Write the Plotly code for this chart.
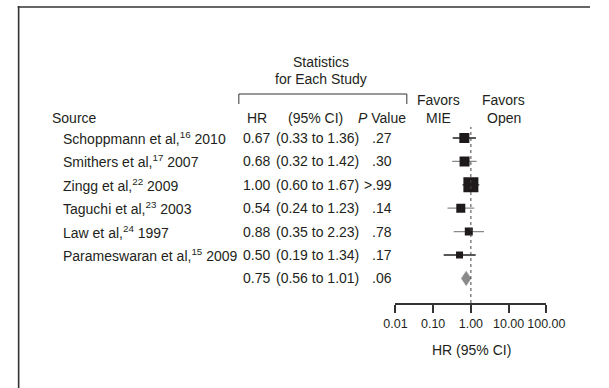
import plotly.graph_objects as go

# ---------------- data ----------------
sources = [
    "Schoppmann et al,<sup>16</sup> 2010",
    "Smithers et al,<sup>17</sup> 2007",
    "Zingg et al,<sup>22</sup> 2009",
    "Taguchi et al,<sup>23</sup> 2003",
    "Law et al,<sup>24</sup> 1997",
    "Parameswaran et al,<sup>15</sup> 2009",
]
hr = [0.67, 0.68, 1.00, 0.54, 0.88, 0.50]
ci_low = [0.33, 0.32, 0.60, 0.24, 0.35, 0.19]
ci_high = [1.36, 1.42, 1.67, 1.23, 2.23, 1.34]
p_values = [".27", ".30", "&gt;.99", ".14", ".78", ".17"]

pooled_hr = 0.75
pooled_low = 0.56
pooled_high = 1.01
pooled_p = ".06"

tick_vals = [0.01, 0.1, 1, 10, 100]
tick_text = ["0.01", "0.10", "1.00", "10.00", "100.00"]

# ---------------- styles ----------------
W, H = 609, 388
FONT = "Liberation Sans, Arial, sans-serif"
FS = 14
TXT = "#231f20"
marker_sizes = [10, 10, 15, 9, 8, 7]
ci_colors = ["#231f20", "#8a8a8a", "#231f20", "#8a8a8a", "#8a8a8a", "#231f20"]


def px(x):
    return x / W


def py(y):
    return 1 - y / H


ROW0, ROWH = 138.0, 23.4
Y_TOP, Y_BOT = 110.0, 303.0
y_range = [(Y_BOT - ROW0) / ROWH, (Y_TOP - ROW0) / ROWH]

fig = go.Figure()

# CI lines
for i in range(len(hr)):
    fig.add_trace(go.Scatter(
        x=[ci_low[i], ci_high[i]], y=[i, i], mode="lines",
        line=dict(color=ci_colors[i], width=1.3),
        hoverinfo="skip", showlegend=False))

# squares
fig.add_trace(go.Scatter(
    x=hr, y=list(range(len(hr))), mode="markers",
    marker=dict(symbol="square", size=marker_sizes, color="#1e1a1b",
                opacity=1, line=dict(width=0)),
    showlegend=False))

# pooled diamond
pr = len(hr)
half = 0.31
fig.add_trace(go.Scatter(
    x=[pooled_low, pooled_hr, pooled_high, pooled_hr, pooled_low],
    y=[pr, pr - half, pr, pr + half, pr],
    mode="lines", fill="toself", fillcolor="#8a8a8a",
    line=dict(color="#8a8a8a", width=0.5),
    showlegend=False, hoverinfo="skip"))

shapes = []
# null line
shapes.append(dict(type="line", xref="x", yref="paper", x0=1, x1=1,
                   y0=py(303), y1=py(127),
                   line=dict(color="#444", width=1, dash="dot")))
# frame (top + left)
shapes.append(dict(type="line", xref="paper", yref="paper", x0=px(6), x1=1,
                   y0=py(7), y1=py(7), line=dict(color="#333", width=1.6)))
shapes.append(dict(type="line", xref="paper", yref="paper", x0=px(7), x1=px(7),
                   y0=0, y1=py(6), line=dict(color="#333", width=1.6)))
# bracket
shapes.append(dict(type="path", xref="paper", yref="paper",
                   path=f"M {px(239)},{py(104)} V {py(94)} H {px(416)} V {py(104)}",
                   line=dict(color="#333", width=1)))

ann = []


def text(x, y, s, xanchor="left", yref="paper", size=FS):
    ann.append(dict(x=x, y=y, xref="paper", yref=yref, text=s, showarrow=False,
                    xanchor=xanchor, yanchor="middle",
                    font=dict(family=FONT, size=size, color=TXT)))


# headers
HDR = 118
text(px(326), py(62), "Statistics", "center")
text(px(326), py(79), "for Each Study", "center")
text(px(449), py(100), "Favors", "center")
text(px(518), py(100), "Favors", "center")
text(px(40), py(HDR), "Source")
text(px(245), py(HDR), "HR")
text(px(289), py(HDR), "(95% CI)")
text(px(362), py(HDR), "<i>P</i> Value")
text(px(449), py(HDR), "MIE", "center")
text(px(518), py(HDR), "Open", "center")

for i in range(len(hr)):
    text(px(52), i, sources[i], yref="y")
    text(px(241), i, f"{hr[i]:.2f}", yref="y")
    text(px(276), i, f"({ci_low[i]:.2f} to {ci_high[i]:.2f})", yref="y")
    text(px(403), i, p_values[i], "right", yref="y")

text(px(241), pr, f"{pooled_hr:.2f}", yref="y")
text(px(276), pr, f"({pooled_low:.2f} to {pooled_high:.2f})", yref="y")
text(px(403), pr, pooled_p, "right", yref="y")

text(px(484), py(350), "HR (95% CI)", "center")

fig.update_layout(
    width=W, height=H,
    margin=dict(l=0, r=0, t=0, b=0),
    paper_bgcolor="white", plot_bgcolor="white",
    shapes=shapes, annotations=ann,
    showlegend=False,
    xaxis=dict(type="log", range=[-2, 2], domain=[px(404), px(563)],
               tickvals=tick_vals, ticktext=tick_text, tickangle=0,
               ticks="outside", ticklen=8, tickwidth=1.5, tickcolor="#333",
               showline=True, linecolor="#333", linewidth=1.5,
               showgrid=False, zeroline=False,
               tickfont=dict(family=FONT, size=12.5, color=TXT)),
    yaxis=dict(range=y_range, domain=[py(Y_BOT), py(Y_TOP)],
               visible=False, showgrid=False, zeroline=False),
)

fig.write_html(
    "out.html",
    config={"displayModeBar": False},
    post_script="document.body.style.margin='0';document.body.style.overflow='hidden';",
)
